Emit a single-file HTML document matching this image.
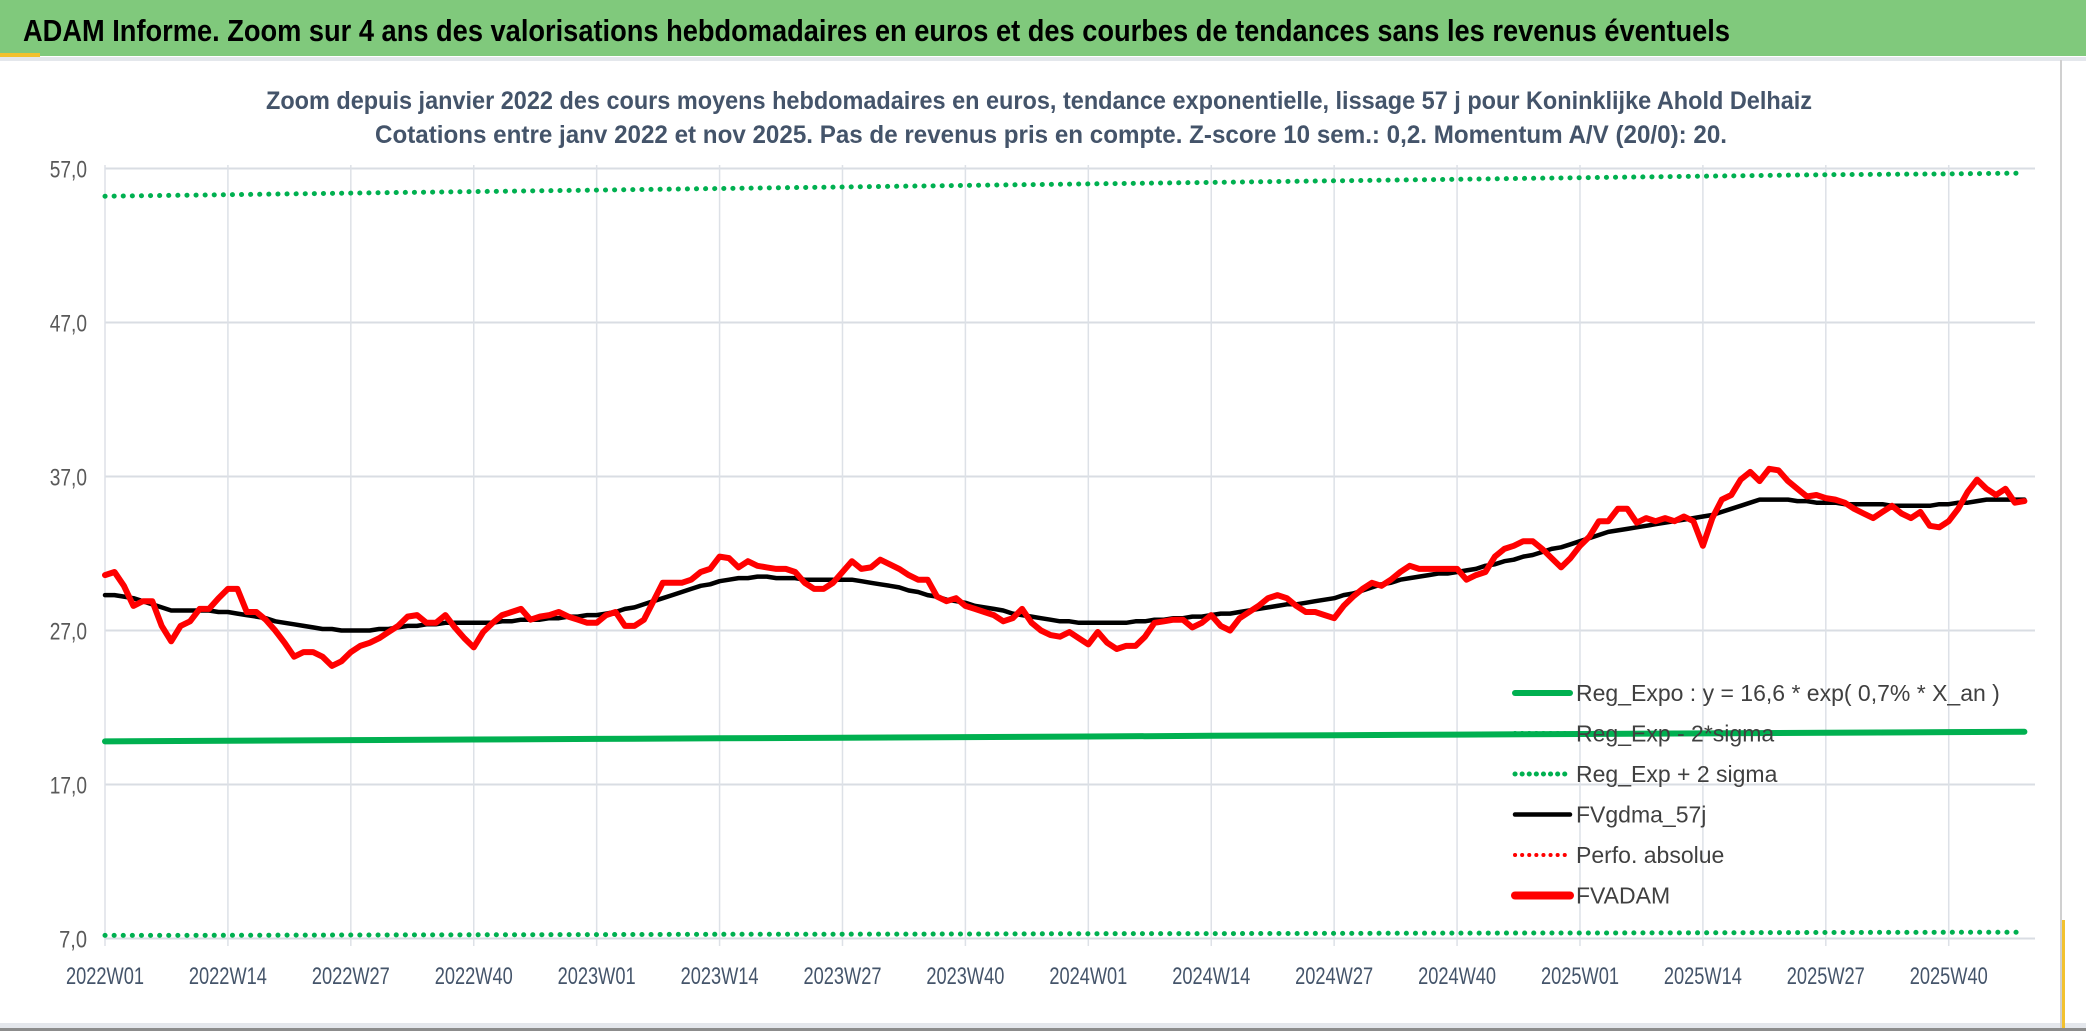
<!DOCTYPE html>
<html><head><meta charset="utf-8">
<style>
html,body{margin:0;padding:0;background:#fff;}
svg{display:block;font-family:"Liberation Sans",sans-serif;}
</style></head>
<body>
<svg id="chart" width="2086" height="1031" viewBox="0 0 2086 1031" xmlns="http://www.w3.org/2000/svg">
<rect x="0" y="0" width="2086" height="1031" fill="#fff"/>
<rect x="0" y="0" width="2086" height="56" fill="#80C97C"/>
<rect x="0" y="53" width="40" height="4" fill="#F2C12E"/>
<text x="23" y="41" font-size="31" font-weight="bold" fill="#000" textLength="1707" lengthAdjust="spacingAndGlyphs">ADAM Informe. Zoom sur 4 ans des valorisations hebdomadaires en euros et des courbes de tendances sans les revenus éventuels</text>
<rect x="0" y="57" width="2086" height="4" fill="#E4E7EC"/>
<text x="266" y="109" font-size="25" font-weight="bold" fill="#44546A" textLength="1546" lengthAdjust="spacingAndGlyphs">Zoom depuis janvier 2022 des cours moyens hebdomadaires en euros, tendance exponentielle, lissage 57 j pour Koninklijke Ahold Delhaiz</text>
<text x="375" y="143" font-size="25" font-weight="bold" fill="#44546A" textLength="1352" lengthAdjust="spacingAndGlyphs">Cotations entre janv 2022 et nov 2025. Pas de revenus pris en compte. Z-score 10 sem.: 0,2. Momentum A/V (20/0): 20.</text>
<g id="grid"></g>
<g id="axes"></g>
<g id="series"></g>
<g id="legend"></g>
<rect x="0" y="1023" width="2086" height="5" fill="#E4E7EC"/>
<rect x="0" y="1028" width="2086" height="3" fill="#8C8C8C"/>
<rect x="2060" y="60" width="2" height="968" fill="#D0D0D0"/>
<rect x="2062" y="920" width="3" height="108" fill="#F2C12E"/>
</svg>
<script>
const yTicks = [7, 17, 27, 37, 47, 57];
const yTickLabels = ["7,0", "17,0", "27,0", "37,0", "47,0", "57,0"];
const xTickLabels = ["2022W01","2022W14","2022W27","2022W40","2023W01","2023W14","2023W27","2023W40","2024W01","2024W14","2024W27","2024W40","2025W01","2025W14","2025W27","2025W40"];
const fvadam = [30.6,30.8,29.9,28.6,28.9,28.9,27.3,26.3,27.3,27.6,
28.4,28.4,29.1,29.7,29.7,28.2,28.2,27.7,27.0,26.2,
25.3,25.6,25.6,25.3,24.7,25.0,25.6,26.0,26.2,26.5,
26.9,27.3,27.9,28.0,27.5,27.5,28.0,27.2,26.5,25.9,
26.9,27.5,28.0,28.2,28.4,27.7,27.9,28.0,28.2,27.9,
27.7,27.5,27.5,28.0,28.2,27.3,27.3,27.7,28.9,30.1,
30.1,30.1,30.3,30.8,31.0,31.8,31.7,31.1,31.5,31.2,
31.1,31.0,31.0,30.8,30.1,29.7,29.7,30.1,30.8,31.5,
31.0,31.1,31.6,31.3,31.0,30.6,30.3,30.3,29.2,28.9,
29.1,28.6,28.4,28.2,28.0,27.6,27.8,28.4,27.5,27.0,
26.7,26.6,26.9,26.5,26.1,26.9,26.2,25.8,26.0,26.0,
26.6,27.5,27.6,27.7,27.7,27.2,27.5,28.0,27.3,27.0,
27.8,28.2,28.6,29.1,29.3,29.1,28.6,28.2,28.2,28.0,
27.8,28.6,29.2,29.7,30.1,29.9,30.3,30.8,31.2,31.0,
31.0,31.0,31.0,31.0,30.3,30.6,30.8,31.8,32.3,32.5,
32.8,32.8,32.3,31.7,31.1,31.7,32.5,33.1,34.1,34.1,
34.9,34.9,34.0,34.3,34.1,34.3,34.1,34.4,34.1,32.5,
34.3,35.5,35.8,36.8,37.3,36.7,37.5,37.4,36.7,36.2,
35.7,35.8,35.6,35.5,35.3,34.9,34.6,34.3,34.7,35.1,
34.6,34.3,34.7,33.8,33.7,34.1,34.9,36.0,36.8,36.2,
35.8,36.2,35.3,35.4];
const fvgdma57 = [29.3,29.3,29.2,29.1,28.9,28.7,28.5,28.3,28.3,28.3,
28.3,28.3,28.2,28.2,28.1,28.0,27.9,27.8,27.6,27.5,
27.4,27.3,27.2,27.1,27.1,27.0,27.0,27.0,27.0,27.1,
27.1,27.2,27.3,27.3,27.4,27.4,27.5,27.5,27.5,27.5,
27.5,27.5,27.6,27.6,27.7,27.7,27.7,27.8,27.8,27.9,
27.9,28.0,28.0,28.1,28.2,28.4,28.5,28.7,28.9,29.1,
29.3,29.5,29.7,29.9,30.0,30.2,30.3,30.4,30.4,30.5,
30.5,30.4,30.4,30.4,30.3,30.3,30.3,30.3,30.3,30.3,
30.2,30.1,30.0,29.9,29.8,29.6,29.5,29.3,29.2,29.0,
28.9,28.8,28.6,28.5,28.4,28.3,28.1,28.0,27.9,27.8,
27.7,27.6,27.6,27.5,27.5,27.5,27.5,27.5,27.5,27.6,
27.6,27.7,27.7,27.8,27.8,27.9,27.9,28.0,28.1,28.1,
28.2,28.3,28.4,28.5,28.6,28.7,28.7,28.8,28.9,29.0,
29.1,29.3,29.4,29.6,29.8,30.0,30.1,30.3,30.4,30.5,
30.6,30.7,30.7,30.8,30.9,31.0,31.2,31.3,31.5,31.6,
31.8,31.9,32.1,32.3,32.4,32.6,32.8,33.0,33.2,33.4,
33.5,33.6,33.7,33.8,33.9,34.0,34.1,34.2,34.3,34.4,
34.5,34.7,34.9,35.1,35.3,35.5,35.5,35.5,35.5,35.4,
35.4,35.3,35.3,35.3,35.2,35.2,35.2,35.2,35.2,35.1,
35.1,35.1,35.1,35.1,35.2,35.2,35.3,35.3,35.4,35.5,
35.5,35.5,35.5,35.5];
const regWeeks = [0,13,26,39,52,65,78,91,104,117,130,143,156,169,182,195,203];
const regExpo = [19.80,19.84,19.88,19.92,19.96,20.00,20.04,20.08,20.12,20.16,20.20,20.24,20.28,20.32,20.36,20.40,20.42];
const regUpper = [55.2,55.3,55.4,55.5,55.6,55.7,55.8,55.9,56.0,56.1,56.2,56.3,56.4,56.5,56.6,56.65,56.7];
const regLower = [7.20,7.21,7.23,7.24,7.25,7.27,7.28,7.29,7.31,7.32,7.33,7.35,7.36,7.37,7.39,7.40,7.41];

const NS = "http://www.w3.org/2000/svg";
const X0 = 105, XSTEP = 9.455, YBASE = 938.5, YUNIT = 15.4, PLOT_RIGHT = 2035, PLOT_TOP = 165, PLOT_BOTTOM = 946;
function xScale(i){ return X0 + i * XSTEP; }
function yScale(v){ return YBASE - (v - 7) * YUNIT; }
function mk(tag, attrs, parent){ const e = document.createElementNS(NS, tag); for (const k in attrs) e.setAttribute(k, attrs[k]); parent.appendChild(e); return e; }

const grid = document.getElementById('grid');
const axes = document.getElementById('axes');
const series = document.getElementById('series');
const legend = document.getElementById('legend');

yTicks.forEach((v, k) => {
  const l = mk('line', {x1: X0, x2: PLOT_RIGHT, y1: yScale(v), y2: yScale(v), stroke: '#D9DDE3', 'stroke-width': 2}, grid);
  
  
  const lab = yTickLabels[k];
  const t = mk('text', {x: 87, y: yScale(v) + 9, 'font-size': 24, fill: '#595959', 'text-anchor': 'end', textLength: lab.length * 9.3, lengthAdjust: 'spacingAndGlyphs'}, axes);
  
  
  t.textContent = lab;
});
xTickLabels.forEach((lab, k) => {
  const x = xScale(k * 13);
  const l = mk('line', {x1: x, x2: x, y1: PLOT_TOP, y2: PLOT_BOTTOM, stroke: '#DDE1E7', 'stroke-width': 1.5}, grid);
  
  
  const t = mk('text', {x: x, y: 984, 'font-size': 24, fill: '#44546A', 'text-anchor': 'middle', textLength: 78, lengthAdjust: 'spacingAndGlyphs'}, axes);
  
  
  t.textContent = lab;
});

function pathFrom(idx, vals){ return vals.map((v, j) => (j ? 'L' : 'M') + xScale(idx[j]).toFixed(1) + ' ' + yScale(v).toFixed(1)).join(' '); }
const allIdx = fvadam.map((_, i) => i);

const pUp = mk('path', {d: pathFrom(regWeeks, regUpper), fill: 'none', stroke: '#00B050', 'stroke-width': 5, 'stroke-dasharray': '0.1 9', 'stroke-linecap': 'round'}, series);


const pLo = mk('path', {d: pathFrom(regWeeks, regLower), fill: 'none', stroke: '#00B050', 'stroke-width': 5, 'stroke-dasharray': '0.1 9', 'stroke-linecap': 'round'}, series);


const pReg = mk('path', {d: pathFrom(regWeeks, regExpo), fill: 'none', stroke: '#00B050', 'stroke-width': 6, 'stroke-linecap': 'round'}, series);


const pBlack = mk('path', {d: pathFrom(allIdx, fvgdma57), fill: 'none', stroke: '#000', 'stroke-width': 4.5, 'stroke-linejoin': 'round', 'stroke-linecap': 'round'}, series);


const pRed = mk('path', {d: pathFrom(allIdx, fvadam), fill: 'none', stroke: '#FF0000', 'stroke-width': 6, 'stroke-linejoin': 'round', 'stroke-linecap': 'round'}, series);



const legendNames = ["Reg_Expo : y = 16,6 * exp( 0,7% *  X_an )", "Reg_Exp - 2*sigma", "Reg_Exp + 2 sigma", "FVgdma_57j", "Perfo. absolue", "FVADAM"];
const legendColors = ['#00B050', '#00B050', '#00B050', '#000', '#FF0000', '#FF0000'];
const legendDotted = [false, true, true, false, true, false];
const legendWidths = [6, 5, 5, 4.5, 4, 8];
legendNames.forEach((name, k) => {
  const y = 693 + k * 40.5;
  const g = mk('g', {}, legend);
  
  
  const attrs = {x1: 1515, x2: 1570, y1: y, y2: y, stroke: legendColors[k], 'stroke-width': legendWidths[k], 'stroke-linecap': 'round'};
  if (legendDotted[k]) { attrs['stroke-dasharray'] = '0.1 7'; }
  const ln = mk('line', attrs, g);
  
  
  const t = mk('text', {x: 1576, y: y + 8, 'font-size': 23, fill: '#404040'}, g);
  
  
  t.textContent = name;
});
</script>
</body></html>
